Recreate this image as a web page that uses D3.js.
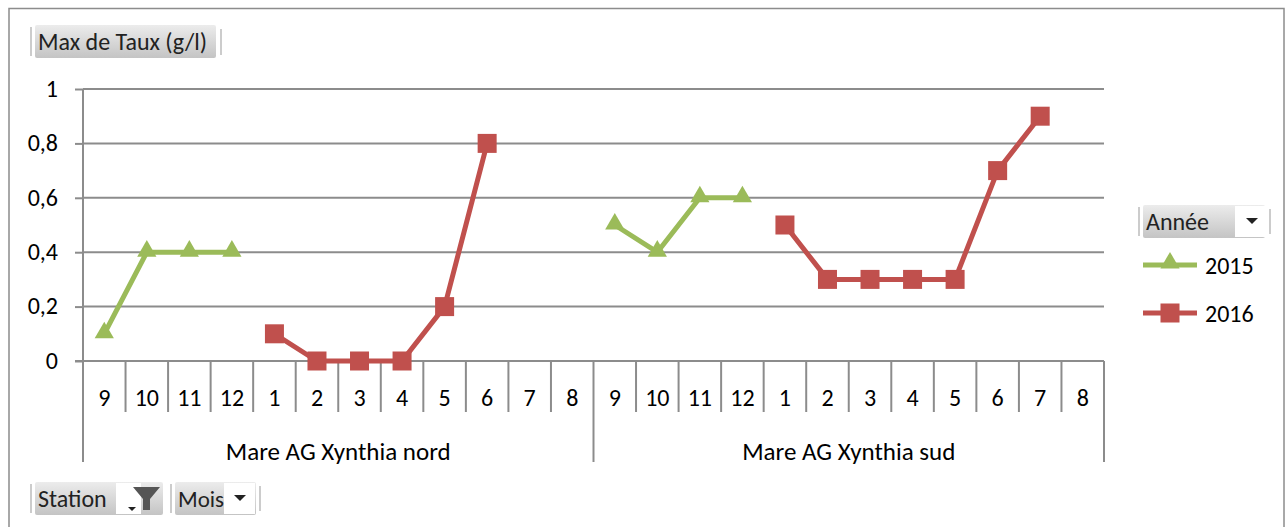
<!DOCTYPE html>
<html><head><meta charset="utf-8">
<script src="https://cdn.jsdelivr.net/npm/d3@7"></script>
<style>body{margin:0;background:#fff}svg{display:block;font-family:Carlito,Calibri,Lato,"Open Sans",sans-serif}</style>
</head><body><svg id="c" width="1288" height="527"></svg>
<script>
const stations = ["Mare AG Xynthia nord", "Mare AG Xynthia sud"];
const months = ["9","10","11","12","1","2","3","4","5","6","7","8"];
const years = ["2015", "2016"];
// values per station, per month (null = no data)
const nord2015 = [0.1, 0.4, 0.4, 0.4, null, null, null, null, null, null, null, null];
const nord2016 = [null, null, null, null, 0.1, 0, 0, 0, 0.2, 0.8, null, null];
const sud2015  = [0.5, 0.4, 0.6, 0.6, null, null, null, null, null, null, null, null];
const sud2016  = [null, null, null, null, 0.5, 0.3, 0.3, 0.3, 0.3, 0.7, 0.9, null];
const yTicks = [0, 0.2, 0.4, 0.6, 0.8, 1];
const yTickLabels = ["0", "0,2", "0,4", "0,6", "0,8", "1"];
const colors = {"2015": "#9BBB59", "2016": "#C0504D"};

const svg = d3.select("#c");
const L = 83, R = 1104, T = 89, B = 361;
const cats = [];
stations.forEach((s, si) => months.forEach((m, mi) => cats.push(si + "|" + mi)));
const x = d3.scaleBand().domain(cats).range([L, R]).padding(0);
const y = d3.scaleLinear().domain([0, 1]).range([B, T]);
const grid = "#8c8c8c";
const FS = 24;

// outer border
svg.append("rect").attr("x", 9).attr("y", 8.5).attr("width", 1275).attr("height", 530)
  .attr("fill", "none").attr("stroke", "#8c8c8c").attr("stroke-width", 1.5);

// gridlines
svg.append("g").selectAll("line").data(yTicks.filter(d => d > 0)).join("line")
  .attr("x1", L).attr("x2", R).attr("y1", d => y(d)).attr("y2", d => y(d))
  .attr("stroke", grid).attr("stroke-width", 2);
// y axis
const yAxis = d3.axisLeft(y).tickValues(yTicks).tickSize(8).tickFormat((d, i) => yTickLabels[i]);
const gy = svg.append("g").attr("transform", `translate(${L},0)`).call(yAxis);
gy.select(".domain").remove();
gy.selectAll(".tick line").attr("stroke", grid).attr("stroke-width", 2);
gy.selectAll(".tick text").attr("x", -25).attr("font-size", FS).attr("fill", "#000")
  .attr("font-family", "Carlito,Calibri,Lato,sans-serif").attr("dy", "0.3em");
svg.append("line").attr("x1", L).attr("x2", L).attr("y1", T).attr("y2", 462)
  .attr("stroke", grid).attr("stroke-width", 2);
// x axis line
svg.append("line").attr("x1", L - 8).attr("x2", R).attr("y1", B).attr("y2", B)
  .attr("stroke", grid).attr("stroke-width", 2);
// category separators
const bw = x.bandwidth();
svg.append("g").selectAll("line").data(cats.slice(1)).join("line")
  .attr("x1", d => x(d)).attr("x2", d => x(d)).attr("y1", B)
  .attr("y2", d => d.endsWith("|0") ? 462 : 412)
  .attr("stroke", grid).attr("stroke-width", 2);
svg.append("line").attr("x1", R).attr("x2", R).attr("y1", B).attr("y2", 462)
  .attr("stroke", grid).attr("stroke-width", 2);
// month labels
svg.append("g").selectAll("text").data(cats).join("text")
  .attr("x", d => x(d) + bw / 2).attr("y", 406).attr("text-anchor", "middle")
  .attr("font-size", FS).text(d => months[+d.split("|")[1]]);
// station labels
svg.append("g").selectAll("text").data(stations).join("text")
  .attr("x", (d, i) => (x(i + "|0") + x(i + "|11") + bw) / 2).attr("y", 460)
  .attr("text-anchor", "middle").attr("font-size", 25).text(d => d);

// series
const series = [
  {year: "2015", st: 0, v: nord2015}, {year: "2016", st: 0, v: nord2016},
  {year: "2015", st: 1, v: sud2015}, {year: "2016", st: 1, v: sud2016}
];
const line = d3.line().defined(d => d.v != null).x(d => x(d.c) + bw / 2).y(d => y(d.v));
const tri = d3.symbol().type(d3.symbolTriangle).size(160);
series.forEach(s => {
  const pts = s.v.map((v, i) => ({c: s.st + "|" + i, v}));
  svg.append("path").datum(pts).attr("d", line).attr("fill", "none")
    .attr("stroke", colors[s.year]).attr("stroke-width", 5).attr("stroke-linejoin", "round");
  const P = pts.filter(d => d.v != null);
  if (s.year === "2015") {
    svg.append("g").selectAll("path").data(P).join("path").attr("d", tri)
      .attr("transform", d => `translate(${x(d.c) + bw / 2},${y(d.v) - 1})`).attr("fill", colors[s.year]);
  } else {
    svg.append("g").selectAll("rect").data(P).join("rect")
      .attr("x", d => x(d.c) + bw / 2 - 9.5).attr("y", d => y(d.v) - 9.5)
      .attr("width", 19).attr("height", 19).attr("fill", colors[s.year]);
  }
});

// button helper
const defs = svg.append("defs");
const grad = defs.append("linearGradient").attr("id", "bg").attr("x1", 0).attr("y1", 0).attr("x2", 0).attr("y2", 1);
grad.append("stop").attr("offset", "0%").attr("stop-color", "#ececec");
grad.append("stop").attr("offset", "100%").attr("stop-color", "#c4c4c4");
function button(x0, y0, w, h, label, whiteX, whiteW, fs) {
  const g = svg.append("g");
  g.append("line").attr("x1", x0 - 4).attr("x2", x0 - 4).attr("y1", y0 + 2).attr("y2", y0 + h - 2)
    .attr("stroke", "#bbb").attr("stroke-width", 1.5);
  g.append("rect").attr("x", x0).attr("y", y0).attr("width", w).attr("height", h).attr("rx", 2)
    .attr("fill", "url(#bg)");
  if (whiteW) g.append("rect").attr("x", whiteX).attr("y", y0 + 1).attr("width", whiteW).attr("height", h - 2).attr("fill", "#fff");
  g.append("text").attr("x", x0 + 3).attr("y", y0 + h / 2 + 8).attr("font-size", fs || FS).attr("fill", "#222").text(label);
  return g;
}
button(35, 25, 181, 33, "Max de Taux (g/l)");
svg.append("line").attr("x1", 221).attr("x2", 221).attr("y1", 29).attr("y2", 55).attr("stroke", "#bbb").attr("stroke-width", 1.5);

const ba = button(1143, 205, 122, 33, "Année", 1235, 30);
ba.append("path").attr("d", "M1246,218 L1258,218 L1252,224 Z").attr("fill", "#222");
svg.append("line").attr("x1", 1270).attr("x2", 1270).attr("y1", 209).attr("y2", 234).attr("stroke", "#bbb").attr("stroke-width", 1.5);

const bs = button(35, 482, 128, 33, "Station", 116, 25);
bs.append("path").attr("d", "M128,507 L136,507 L132,511 Z").attr("fill", "#222");
bs.append("path").attr("d", "M133,487 L160,487 L150,499 L150,510 L143,510 L143,499 Z").attr("fill", "#555");
const bm = button(175, 482, 81, 33, "Mois", 224, 31, 23);
bm.append("path").attr("d", "M234,495 L246,495 L240,501 Z").attr("fill", "#222");
svg.append("line").attr("x1", 260).attr("x2", 260).attr("y1", 486).attr("y2", 511).attr("stroke", "#bbb").attr("stroke-width", 1.5);

// legend
const lg = svg.append("g");
years.forEach((yr, i) => {
  const cy = 265 + i * 48;
  lg.append("line").attr("x1", 1143).attr("x2", 1197).attr("y1", cy).attr("y2", cy)
    .attr("stroke", colors[yr]).attr("stroke-width", 5);
  if (yr === "2015") lg.append("path").attr("d", tri).attr("transform", `translate(1170,${cy - 2})`).attr("fill", colors[yr]);
  else lg.append("rect").attr("x", 1160.5).attr("y", cy - 9.5).attr("width", 19).attr("height", 19).attr("fill", colors[yr]);
  lg.append("text").attr("x", 1205).attr("y", cy + 9).attr("font-size", FS).text(yr);
});
</script></body></html>
